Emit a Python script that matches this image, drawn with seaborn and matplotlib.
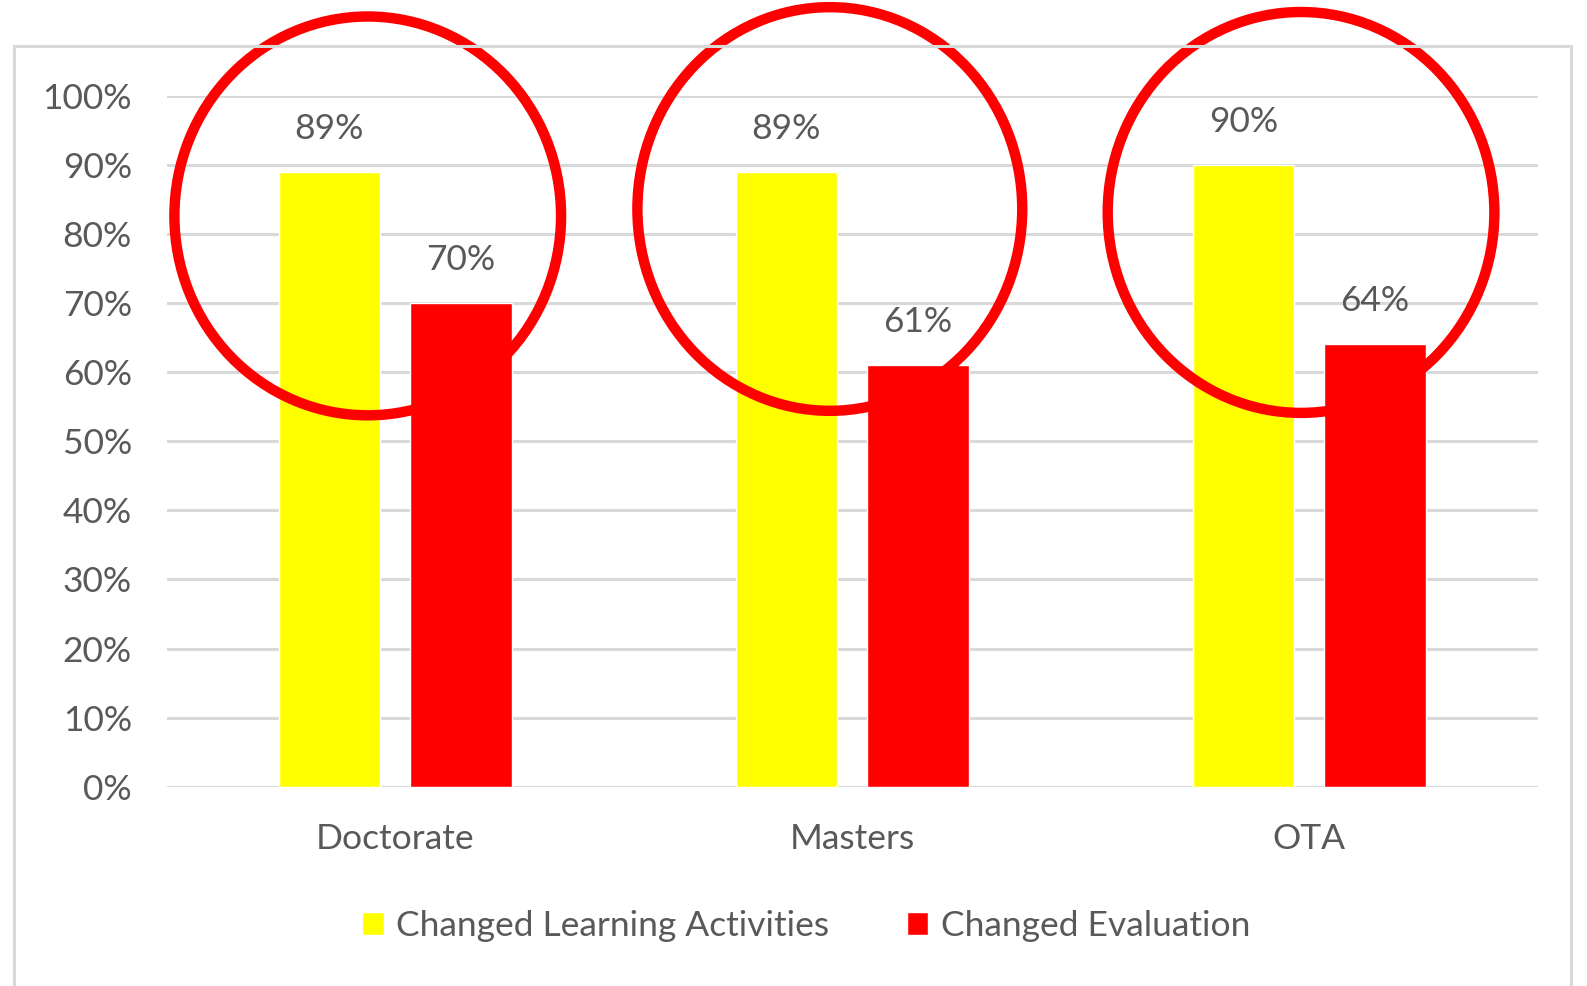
import numpy as np
import pandas as pd
import matplotlib.pyplot as plt
import seaborn as sns
from matplotlib.patches import Ellipse, Rectangle

# data
programs = ["Doctorate", "Masters", "OTA"]
learning_activities = [89, 89, 90]
evaluation = [70, 61, 64]
series_names = ["Changed Learning Activities", "Changed Evaluation"]
y_ticks = [0, 10, 20, 30, 40, 50, 60, 70, 80, 90, 100]

df = pd.DataFrame({
    "program": programs * 2,
    "series": [series_names[0]] * 3 + [series_names[1]] * 3,
    "value": learning_activities + evaluation,
})

sns.set_theme(style="white")
plt.rcParams['font.family'] = ['Lato', 'DejaVu Sans']
text_color = "#595959"
fs = 25.5

fig = plt.figure(figsize=(15.87, 9.86), dpi=100)
ax = fig.add_axes([0.105, 0.202, 0.864, 0.701])

# outer chart border (Excel style)
fig.patches.append(Rectangle((0.009, -0.05), 0.981, 1.003, transform=fig.transFigure,
                             fill=False, edgecolor="#d9d9d9", linewidth=2.2, zorder=0))

sns.barplot(data=df, x="program", y="value", hue="series",
            palette=["#ffff00", "#ff0000"], width=0.576, gap=0.23,
            saturation=1, ax=ax, zorder=3)

for cont in ax.containers:
    ax.bar_label(cont, fmt="%d%%", padding=19.5, fontsize=fs, color=text_color)

ax.set_ylim(0, 100)
ax.set_xlim(-0.5, 2.5)
ax.set_yticks(y_ticks)
ax.set_yticklabels([f"{t}%" for t in y_ticks])
ax.yaxis.grid(True, color="#d9d9d9", linewidth=2.2)
ax.set_axisbelow(True)
for s in ax.spines.values():
    s.set_visible(False)
ax.tick_params(axis="y", length=0, pad=25, labelsize=fs, labelcolor=text_color)
ax.tick_params(axis="x", length=0, pad=26, labelsize=fs, labelcolor=text_color)
ax.set_xlabel("")
ax.set_ylabel("")

# red highlight circles drawn over the chart
highlights = [(-0.06, 82.6, 0.846, 57.7), (0.951, 83.6, 0.842, 58.4), (1.982, 83.1, 0.846, 58.0)]
for cx, cy, w, h in highlights:
    ax.add_patch(Ellipse((cx, cy), w, h, fill=False, edgecolor="#ff0000",
                         linewidth=7.5, clip_on=False, zorder=5))

handles, labels = ax.get_legend_handles_labels()
ax.legend_.remove()
fig.legend(handles, labels, loc="center", bbox_to_anchor=(0.508, 0.061), ncol=2,
           frameon=False, fontsize=fs, labelcolor=text_color, handlelength=0.6,
           handleheight=0.6, handletextpad=0.35, columnspacing=2.2)

fig.savefig("out.png", dpi=100)
